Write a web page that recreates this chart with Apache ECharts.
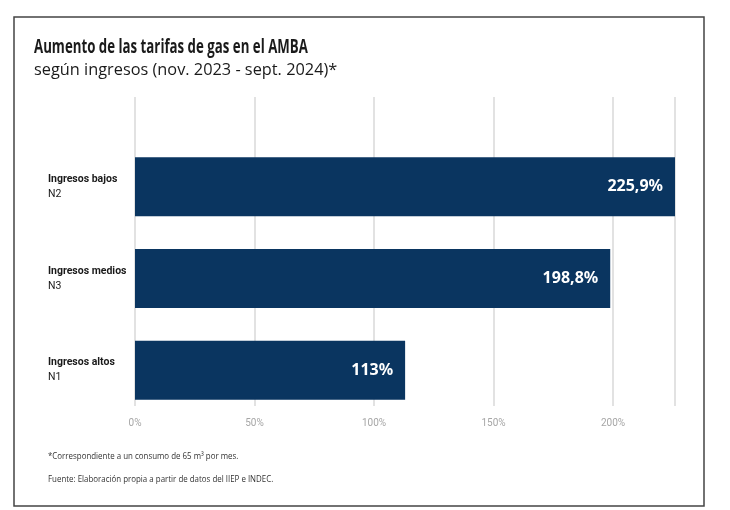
<!DOCTYPE html>
<html>
<head>
<meta charset="utf-8">
<script src="https://cdn.jsdelivr.net/npm/echarts@6/dist/echarts.min.js"></script>
<style>html,body{margin:0;padding:0;background:#fff;}#c{width:730px;height:510px;}</style>
</head>
<body>
<div id="c"></div>
<script>
const categories = ['Ingresos altos|N1', 'Ingresos medios|N3', 'Ingresos bajos|N2'];
const values = [113, 198.8, 225.9];
const valueLabels = ['113%', '198,8%', '225,9%'];
const tickLabels = ['0%', '50%', '100%', '150%', '200%'];
const axisMax = 225.9;

const baseFont = "'Open Sans', sans-serif";
const labelFont = "Roboto, 'Open Sans', sans-serif";
const chart = echarts.init(document.getElementById('c'));
chart.setOption({
  backgroundColor: '#fff',
  animation: false,
  graphic: [
    { type: 'rect', shape: { x: 14, y: 17, width: 690, height: 489 }, style: { fill: null, stroke: '#444', lineWidth: 1.5 } },
    { type: 'text', x: 34, y: 37, scaleX: 0.68, style: { text: 'Aumento de las tarifas de gas en el AMBA', font: "bold 19.5px " + baseFont, fill: '#1a1a1a', verticalAlign: 'top' } },
    { type: 'text', x: 34, y: 62.5, scaleX: 1.02, style: { text: 'según ingresos (nov. 2023 - sept. 2024)*', font: "16px " + baseFont, fill: '#1a1a1a', verticalAlign: 'top' } },
    { type: 'text', x: 48, y: 452, scaleX: 0.88, style: { text: '*Correspondiente a un consumo de 65 m³ por mes.', font: "9px " + baseFont, fill: '#333', verticalAlign: 'top' } },
    { type: 'text', x: 48, y: 475, scaleX: 0.88, style: { text: 'Fuente: Elaboración propia a partir de datos del IIEP e INDEC.', font: "9px " + baseFont, fill: '#333', verticalAlign: 'top' } }
  ],
  grid: [
    { left: 135, right: 55, top: 141, bottom: 94 },
    { left: 135, right: 55, top: 97, bottom: 104 }
  ],
  xAxis: [
    { gridIndex: 0, type: 'value', min: 0, max: axisMax, show: false },
    { gridIndex: 1, type: 'value', min: 0, max: axisMax, interval: 50,
      axisLine: { show: false }, axisTick: { show: false },
      splitLine: { show: true, lineStyle: { color: '#d9d9d9', width: 1.5 } },
      axisLabel: { margin: 12, color: '#a6a6a6', fontSize: 10, fontFamily: labelFont, showMaxLabel: false,
        formatter: function (v) { const i = Math.round(v / 50); return (Math.abs(v - i * 50) < 1e-6 && tickLabels[i] !== undefined) ? tickLabels[i] : ''; } } }
  ],
  yAxis: [
    { gridIndex: 0, type: 'category', data: categories,
      axisLine: { show: false }, axisTick: { show: false }, splitLine: { show: false },
      axisLabel: { margin: 87, align: 'left',
        formatter: function (v) { const p = v.split('|'); return '{a|' + p[0] + '}\n{b|' + p[1] + '}'; },
        rich: {
          a: { fontFamily: labelFont, fontWeight: 'bold', fontSize: 10.5, color: '#1a1a1a', lineHeight: 15 },
          b: { fontFamily: labelFont, fontSize: 10.5, color: '#1a1a1a', lineHeight: 15 }
        } } },
    { gridIndex: 1, type: 'category', data: [''], show: false }
  ],
  series: [{
    type: 'bar', xAxisIndex: 0, yAxisIndex: 0, data: values, barWidth: 59,
    itemStyle: { color: '#0a3560' },
    label: { show: true, position: 'insideRight', distance: 12, color: '#fff', fontWeight: 'bold', fontSize: 16,
      fontFamily: "'Noto Sans', sans-serif",
      formatter: function (p) { return valueLabels[p.dataIndex]; } }
  }]
});
</script>
</body>
</html>
